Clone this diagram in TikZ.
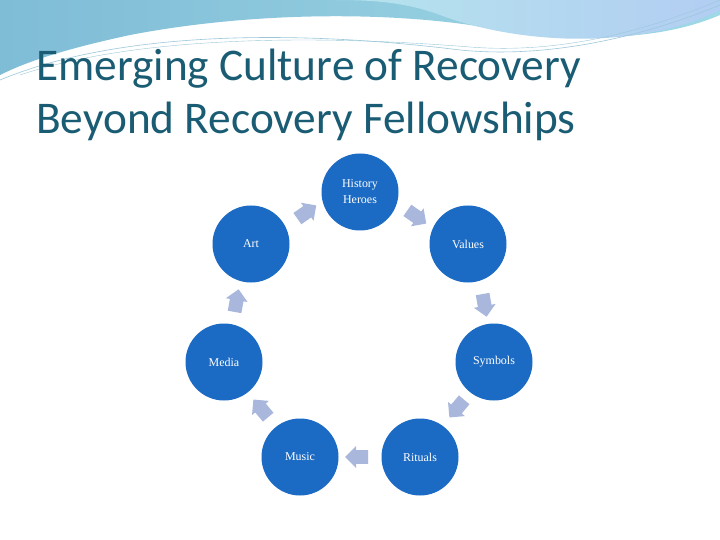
\documentclass[tikz,border=0pt]{standalone}
\usepackage{fontspec}
\setmainfont{Liberation Serif}
\newfontfamily\titlefont{Carlito}
\usetikzlibrary{shapes.arrows}
\definecolor{circ}{HTML}{1B6AC4}
\definecolor{arr}{HTML}{A9B7DD}
\definecolor{ttl}{HTML}{195C73}
\definecolor{bandL}{HTML}{7FBCD6}
\definecolor{bandR}{HTML}{9FD8E6}
\definecolor{lightR}{HTML}{B5E4EC}
\tikzset{
 circnode/.style={circle,fill=circ,minimum size=77bp,inner sep=0pt,text=white,font=\fontsize{12}{16}\selectfont,align=center},
 arrnode/.style={single arrow,fill=arr,minimum height=23bp,minimum width=22bp,single arrow head extend=4bp,inner sep=6.5bp,shape border rotate=0},
}
\begin{document}
\begin{tikzpicture}[x=1bp,y=-1bp]
\useasboundingbox (0,0) rectangle (720,540);
\fill[white] (0,0) rectangle (720,540);
% header decoration
\shade[left color=bandL,right color=bandR] (0,0) -- (720,0) -- (720,15) .. controls (650,45) and (560,40) .. (470,25) .. controls (380,12) and (250,12) .. (130,35) .. controls (70,48) and (30,60) .. (0,75) -- cycle;
\shade[left color=lightR,right color=bandR!80!blue!60!white] (330,0) -- (720,0) -- (720,10) .. controls (640,50) and (520,45) .. (440,15) .. controls (400,0) and (360,0) .. (330,0) -- cycle;
\draw[cyan!50!gray!60,line width=0.6pt] (0,80) .. controls (120,30) and (300,30) .. (460,50) .. controls (560,60) and (660,30) .. (720,5);
\draw[cyan!50!gray!60,line width=0.4pt] (20,75) .. controls (140,35) and (320,35) .. (470,47) .. controls (570,55) and (660,25) .. (720,0);
% title
\node[anchor=base west,inner sep=0pt,text=ttl,font=\titlefont\fontsize{45.5}{48}\selectfont] (t1) at (36,81) {Emerging Culture of Recovery};
\node[anchor=base west,inner sep=0pt,text=ttl,font=\titlefont\fontsize{45.5}{48}\selectfont] (t2) at (36,134) {Beyond Recovery Fellowships};
% circles
\node[circnode] (hist) at (360,192) {History\\Heroes};
\node[circnode] (val) at (468,244) {Values};
\node[circnode] (sym) at (494,362) {Symbols};
\node[circnode] (rit) at (420,457) {Rituals};
\node[circnode] (mus) at (300,457) {Music};
\node[circnode] (med) at (224,362) {Media};
\node[circnode] (art) at (251,244) {Art};
% arrows
\node[arrnode,rotate=-35] (a1) at (414,215) {};
\node[arrnode,rotate=-80] (a2) at (484,302) {};
\node[arrnode,rotate=-130] (a3) at (459,406) {};
\node[arrnode,rotate=180] (a4) at (360,457) {};
\node[arrnode,rotate=130] (a5) at (263,411) {};
\node[arrnode,rotate=80] (a6) at (236,304) {};
\node[arrnode,rotate=35] (a7) at (304,214) {};
\end{tikzpicture}
\end{document}
